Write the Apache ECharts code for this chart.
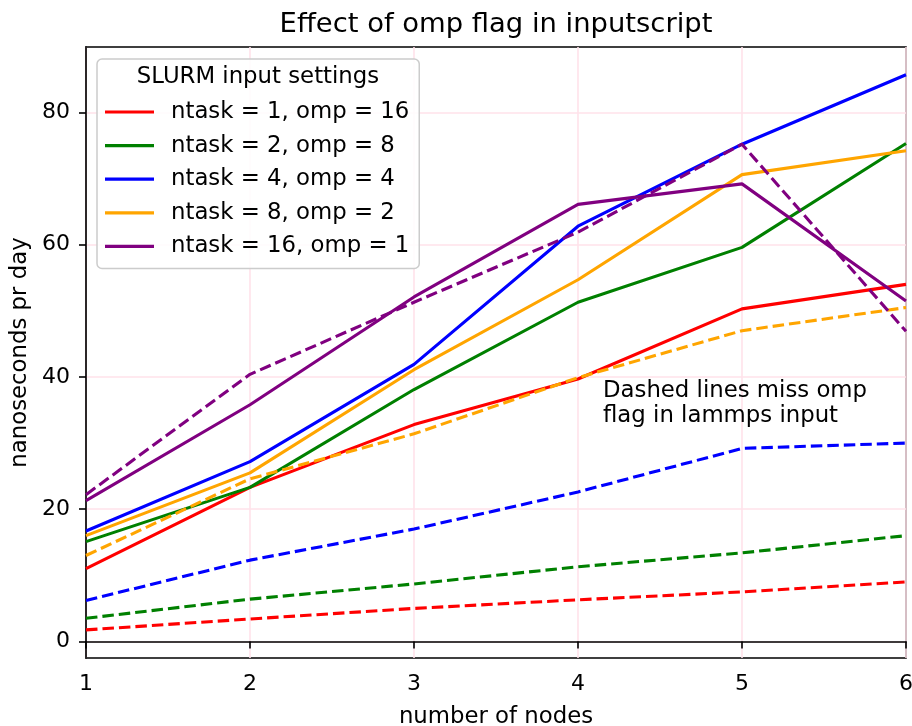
<!DOCTYPE html>
<html>
<head>
<meta charset="utf-8">
<script src="https://cdn.jsdelivr.net/npm/echarts@6/dist/echarts.min.js"></script>
<style>
html,body{margin:0;padding:0;background:#fff;}
#chart{width:912px;height:726px;}
</style>
</head>
<body>
<div id="chart"></div>
<script>
const nodes = [1, 2, 3, 4, 5, 6];
const yTicks = [0, 20, 40, 60, 80];
const labels = [
  'ntask = 1, omp = 16',
  'ntask = 2, omp = 8',
  'ntask = 4, omp = 4',
  'ntask = 8, omp = 2',
  'ntask = 16, omp = 1'
];
const colors = ['#ff0000', '#008000', '#0000ff', '#ffa500', '#800080'];

// with omp flag (solid)
const withOmp1 = [11.0, 23.3, 32.8, 39.7, 50.3, 54.0];
const withOmp2 = [15.1, 23.3, 38.1, 51.3, 59.6, 75.3];
const withOmp4 = [16.7, 27.2, 41.9, 62.8, 75.2, 85.7];
const withOmp8 = [16.0, 25.5, 41.1, 54.7, 70.6, 74.2];
const withOmp16 = [21.3, 35.8, 52.1, 66.1, 69.2, 51.5];

// missing omp flag (dashed)
const noOmp1 = [1.75, 3.4, 5.0, 6.3, 7.5, 9.0];
const noOmp2 = [3.5, 6.4, 8.7, 11.3, 13.4, 16.0];
const noOmp4 = [6.2, 12.3, 17.0, 22.6, 29.2, 30.0];
const noOmp8 = [13.0, 24.6, 31.4, 39.9, 47.0, 50.5];
const noOmp16 = [22.2, 40.4, 51.3, 61.9, 75.2, 46.9];

const solid = [withOmp1, withOmp2, withOmp4, withOmp8, withOmp16];
const dashed = [noOmp1, noOmp2, noOmp4, noOmp8, noOmp16];

const FONT = 'DejaVu Sans';
const pairs = vals => nodes.map((n, i) => [n, vals[i]]);

const series = [];
solid.forEach((vals, i) => {
  series.push({
    name: labels[i], type: 'line', data: pairs(vals), symbol: 'none', showSymbol: false,
    color: colors[i], itemStyle: {color: colors[i]},
    lineStyle: {width: 3.1, color: colors[i], type: 'solid'},
    z: 3, silent: true, animation: false
  });
});
dashed.forEach((vals, i) => {
  series.push({
    name: labels[i] + ' (no omp)', type: 'line', data: pairs(vals), symbol: 'none', showSymbol: false,
    color: colors[i], itemStyle: {color: colors[i]},
    lineStyle: {width: 3.1, color: colors[i], type: [11.5, 5]},
    z: 3, silent: true, animation: false
  });
});

const chart = echarts.init(document.getElementById('chart'), null, {renderer: 'canvas'});
chart.setOption({
  animation: false,
  backgroundColor: '#ffffff',
  textStyle: {fontFamily: FONT},
  title: {
    text: 'Effect of omp flag in inputscript',
    left: 491, top: 6, textAlign: 'center',
    textStyle: {fontFamily: FONT, fontSize: 27.4, fontWeight: 'normal', color: '#000'}
  },
  grid: {
    left: 86, right: 6, top: 47, bottom: 68,
    outerBoundsMode: 'none', containLabel: false,
    show: true, borderColor: '#000', borderWidth: 1.6, backgroundColor: 'transparent'
  },
  legend: {
    data: labels.map(l => ({name: l, icon: 'rect'})),
    orient: 'vertical',
    left: 97, top: 59,
    padding: [41, 10, 10, 8],
    itemWidth: 49, itemHeight: 3.2, itemGap: 9.6,
    borderColor: '#cccccc', borderWidth: 1.5, borderRadius: 5,
    backgroundColor: 'rgba(255,255,255,0.85)',
    textStyle: {fontFamily: FONT, fontSize: 22.8, color: '#000', lineHeight: 24, padding: [0, 0, 0, 12]},
    selectedMode: false
  },
  xAxis: {
    type: 'value', min: 1, max: 6, interval: 1,
    name: 'number of nodes', nameLocation: 'middle', nameGap: 48,
    nameTextStyle: {fontFamily: FONT, fontSize: 22.8, color: '#000'},
    axisLine: {show: true, lineStyle: {color: '#000', width: 1.6}},
    axisTick: {show: true, inside: false, length: 7, lineStyle: {color: '#000', width: 1.6}},
    axisLabel: {fontFamily: FONT, fontSize: 22, color: '#000', margin: 15},
    splitLine: {show: true, lineStyle: {color: '#ffe2ea', width: 1.6}}
  },
  yAxis: {
    type: 'value', min: -2.5, max: 89.9,
    name: 'nanoseconds pr day', nameLocation: 'middle', nameGap: 52,
    nameTextStyle: {fontFamily: FONT, fontSize: 22.8, color: '#000'},
    axisLine: {show: true, lineStyle: {color: '#000', width: 1.6}},
    axisTick: {show: true, inside: false, length: 7, customValues: yTicks, lineStyle: {color: '#000', width: 1.6}},
    axisLabel: {fontFamily: FONT, fontSize: 22, color: '#000', margin: 16, customValues: yTicks},
    splitLine: {show: true, lineStyle: {color: '#ffe2ea', width: 1.6}}
  },
  graphic: [
    {
      type: 'text', x: 258, y: 66, z: 100,
      style: {text: 'SLURM input settings', fontFamily: FONT, fontSize: 22.8, fill: '#000', align: 'center', verticalAlign: 'top'}
    },
    {
      type: 'text', x: 603, y: 379, z: 100,
      style: {text: 'Dashed lines miss omp\nflag in lammps input', fontFamily: FONT, fontSize: 22.8, lineHeight: 25, fill: '#000', verticalAlign: 'top'}
    }
  ],
  series: series
});
</script>
</body>
</html>
